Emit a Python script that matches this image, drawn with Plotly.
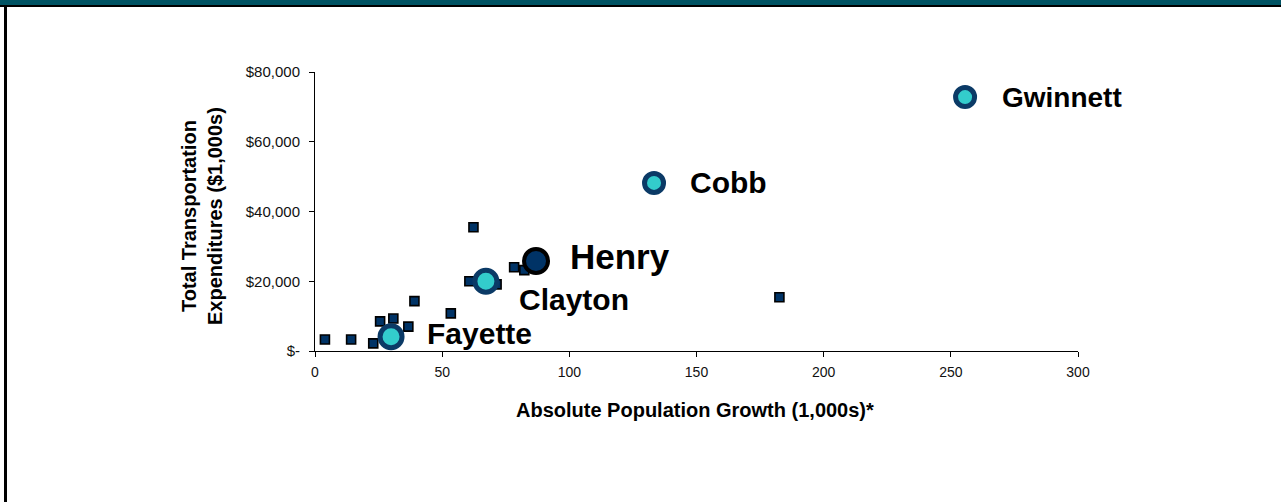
import plotly.graph_objects as go

# Other counties: absolute population growth (1,000s) vs transportation spend ($1,000s)
other_growth = [3.9, 14.2, 22.9, 25.6, 30.8, 36.7, 39.1, 53.4, 62.3, 60.7, 71.4, 78.3, 82.3, 182.6, 28.5, 66.0]
other_spend = [3300, 3300, 2200, 8500, 9300, 7000, 14300, 10800, 35500, 20000, 19100, 24000, 23200, 15400, 4500, 19500]

# Highlighted counties
hl_names = ["Gwinnett", "Cobb", "Clayton", "Fayette"]
hl_growth = [255.6, 133.3, 67.2, 29.9]
hl_spend = [72800, 48200, 20000, 4100]

henry_name = "Henry"
henry_growth = [86.9]
henry_spend = [25800]

# Axis ticks
x_ticks = [0, 50, 100, 150, 200, 250, 300]
y_ticks = [0, 20000, 40000, 60000, 80000]
y_tick_text = ["$-", "$20,000", "$40,000", "$60,000", "$80,000"]

W, H = 1281, 502
L, R, T, B = 315, 203, 72, 151
PW, PH = W - L - R, H - T - B


def px_x(px):
    return (px - L) / PW


def px_y(py):
    return (H - B - py) / PH


NAVY = "#003366"
RING = "#0b3a66"
CYAN = "#33cccc"
FONT = "Arial, Liberation Sans, sans-serif"

fig = go.Figure()

fig.add_trace(go.Scatter(
    x=other_growth, y=other_spend, mode="markers",
    marker=dict(symbol="square", size=9, color=NAVY, opacity=1,
                line=dict(color="#000000", width=1.6)),
    hoverinfo="skip", showlegend=False,
))

fig.add_trace(go.Scatter(
    x=hl_growth, y=hl_spend, mode="markers",
    marker=dict(symbol="circle", size=[19, 19, 22, 22], color=CYAN, opacity=1,
                line=dict(color=RING, width=5)),
    hoverinfo="skip", showlegend=False,
))

fig.add_trace(go.Scatter(
    x=henry_growth, y=henry_spend, mode="markers",
    marker=dict(symbol="circle", size=24, color=NAVY, opacity=1,
                line=dict(color="#000000", width=4)),
    hoverinfo="skip", showlegend=False,
))

# County labels next to the highlighted markers
label_style = {
    "Gwinnett": dict(size=28, xshift=35, yshift=0),
    "Cobb": dict(size=30, xshift=34, yshift=0),
    "Clayton": dict(size=30, xshift=31, yshift=-18),
    "Fayette": dict(size=30, xshift=34, yshift=3),
}
for name, gx, sy in zip(hl_names, hl_growth, hl_spend):
    st = label_style[name]
    fig.add_annotation(
        x=gx, y=sy, xref="x", yref="y", text=f"<b>{name}</b>", showarrow=False,
        xanchor="left", yanchor="middle", xshift=st["xshift"], yshift=st["yshift"],
        font=dict(family=FONT, size=st["size"], color="#000000"),
    )
fig.add_annotation(
    x=henry_growth[0], y=henry_spend[0], xref="x", yref="y", text=f"<b>{henry_name}</b>",
    showarrow=False, xanchor="left", yanchor="middle", xshift=32, yshift=5,
    font=dict(family=FONT, size=35, color="#000000"),
)

# Axis titles
fig.add_annotation(
    x=px_x(202), y=px_y(216), xref="paper", yref="paper", showarrow=False,
    text="<b>Total Transportation<br>Expenditures ($1,000s)</b>", textangle=-90,
    xanchor="center", yanchor="middle",
    font=dict(family=FONT, size=20, color="#000000"),
)
fig.add_annotation(
    x=px_x(695), y=px_y(410), xref="paper", yref="paper", showarrow=False,
    text="<b>Absolute Population Growth (1,000s)*</b>",
    xanchor="center", yanchor="middle",
    font=dict(family=FONT, size=20, color="#000000"),
)

# Slide frame: teal band, black rule under it, black left edge
fig.add_shape(type="rect", xref="paper", yref="paper", x0=px_x(0), x1=px_x(W),
              y0=px_y(5), y1=px_y(0), fillcolor="#005363", line=dict(width=0), layer="above")
fig.add_shape(type="rect", xref="paper", yref="paper", x0=px_x(0), x1=px_x(W),
              y0=px_y(7), y1=px_y(5), fillcolor="#000000", line=dict(width=0), layer="above")
fig.add_shape(type="rect", xref="paper", yref="paper", x0=px_x(4), x1=px_x(7),
              y0=px_y(H), y1=px_y(7), fillcolor="#000000", line=dict(width=0), layer="above")

fig.update_xaxes(
    range=[0, 300], tickvals=x_ticks, ticks="outside", ticklen=5, tickcolor="#000000",
    showline=True, linecolor="#000000", linewidth=1, showgrid=False, zeroline=False,
    tickfont=dict(family=FONT, size=14, color="#111111"), ticklabelstandoff=3,
)
fig.update_yaxes(
    range=[0, 80000], tickvals=y_ticks, ticktext=y_tick_text, ticks="outside", ticklen=5,
    tickcolor="#000000", showline=True, linecolor="#000000", linewidth=1, showgrid=False,
    zeroline=False, tickfont=dict(family=FONT, size=15, color="#111111"), ticklabelstandoff=6,
)

fig.update_layout(
    width=W, height=H, autosize=False,
    margin=dict(l=L, r=R, t=T, b=B, pad=0),
    paper_bgcolor="#ffffff", plot_bgcolor="#ffffff",
    showlegend=False,
)

fig.write_html("out.html")
